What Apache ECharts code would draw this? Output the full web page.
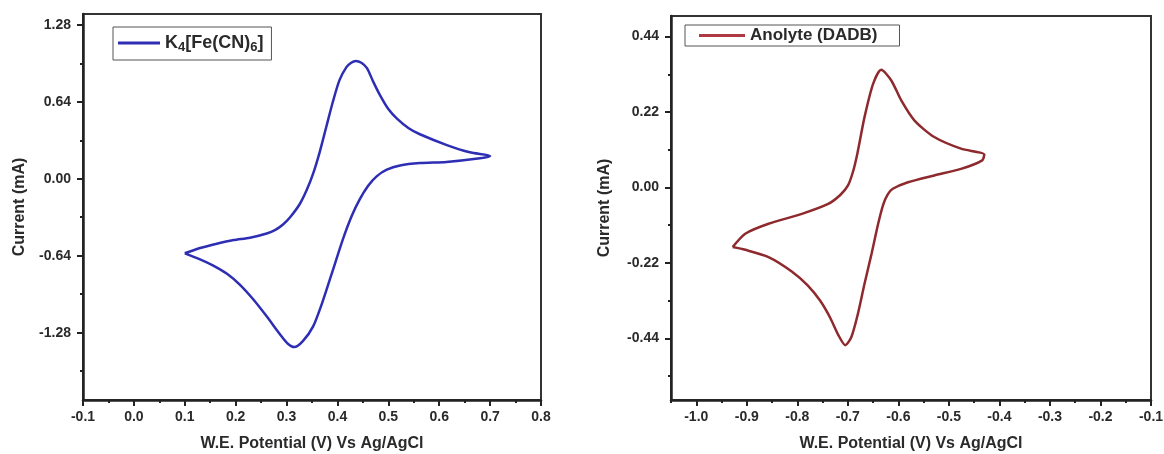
<!DOCTYPE html>
<html>
<head>
<meta charset="utf-8">
<script src="https://cdn.jsdelivr.net/npm/echarts@6/dist/echarts.min.js"></script>
<style>
  html, body { margin: 0; padding: 0; background: #fff; }
  #main { width: 1164px; height: 454px; }
</style>
</head>
<body>
<div id="main"></div>
<script>
// K4[Fe(CN)6] cyclic voltammogram (left panel)
var feX = [0.100, 0.130, 0.163, 0.196, 0.228, 0.261, 0.278, 0.293, 0.307, 0.326, 0.340, 0.352, 0.365, 0.378, 0.391,
           0.404, 0.418, 0.427, 0.436, 0.447, 0.458, 0.470, 0.483, 0.500, 0.517, 0.540, 0.562, 0.615, 0.660, 0.700,
           0.680, 0.614, 0.562, 0.523, 0.497, 0.477, 0.460, 0.444, 0.428, 0.411, 0.391, 0.371, 0.352, 0.332,
           0.315, 0.302, 0.290, 0.281, 0.262, 0.234, 0.208, 0.183, 0.155, 0.130, 0.100];
var feY = [-0.62, -0.576, -0.54, -0.51, -0.49, -0.455, -0.425, -0.38, -0.32, -0.21, -0.09, 0.04, 0.22, 0.43, 0.64,
           0.82, 0.93, 0.965, 0.98, 0.965, 0.92, 0.81, 0.70, 0.58, 0.50, 0.42, 0.37, 0.28, 0.22, 0.19,
           0.17, 0.14, 0.13, 0.11, 0.075, 0.02, -0.06, -0.17, -0.31, -0.50, -0.76, -1.02, -1.23, -1.35,
           -1.40, -1.37, -1.31, -1.26, -1.15, -1.00, -0.88, -0.79, -0.72, -0.67, -0.62];

// Anolyte (DADB) cyclic voltammogram (right panel)
var anX = [-0.928, -0.903, -0.857, -0.791, -0.739, -0.715, -0.700, -0.690, -0.681, -0.667, -0.650, -0.634,
           -0.614, -0.594, -0.568, -0.529, -0.476, -0.430,
           -0.434, -0.476, -0.529, -0.581, -0.611, -0.621, -0.630, -0.640, -0.653, -0.667, -0.680, -0.693, -0.705,
           -0.719, -0.735, -0.755, -0.780, -0.811, -0.857, -0.903, -0.928];
var anY = [-0.174, -0.135, -0.106, -0.077, -0.048, -0.022, 0.005, 0.045, 0.100, 0.205, 0.302, 0.343,
           0.312, 0.253, 0.195, 0.147, 0.113, 0.096,
           0.079, 0.054, 0.035, 0.015, -0.004, -0.020, -0.050, -0.106, -0.193, -0.281, -0.368, -0.436, -0.460,
           -0.430, -0.380, -0.330, -0.285, -0.245, -0.203, -0.182, -0.174];

// tick values
var feXMajor = [-0.1, 0.0, 0.1, 0.2, 0.3, 0.4, 0.5, 0.6, 0.7, 0.8];
var feXMinor = [-0.05, 0.05, 0.15, 0.25, 0.35, 0.45, 0.55, 0.65, 0.75];
var feYMajor = [-1.28, -0.64, 0.00, 0.64, 1.28];
var feYMinor = [-1.6, -0.96, -0.32, 0.32, 0.96];
var anXMajor = [-1.0, -0.9, -0.8, -0.7, -0.6, -0.5, -0.4, -0.3, -0.2, -0.1];
var anXMinor = [-1.05, -0.95, -0.85, -0.75, -0.65, -0.55, -0.45, -0.35, -0.25, -0.15];
var anYMajor = [-0.44, -0.22, 0.00, 0.22, 0.44];
var anYMinor = [-0.55, -0.33, -0.11, 0.11, 0.33];

function zip(xs, ys) {
  return xs.map(function (x, i) { return [x, ys[i]]; });
}

var FONT = '"Liberation Sans", Arial, sans-serif';
var INK = '#2a2a2a';

function mainAxis(grid, min, max, major, digits, name, nameGap, position, margin) {
  return {
    type: 'value', gridIndex: grid, min: min, max: max, position: position,
    name: name, nameLocation: 'middle', nameGap: nameGap,
    nameTextStyle: { fontFamily: FONT, fontWeight: 'bold', fontSize: 16, color: INK },
    axisLine: { show: true, onZero: false, lineStyle: { color: '#222', width: 2.5 } },
    axisTick: { show: true, inside: false, length: 6, customValues: major, lineStyle: { color: '#222', width: 2 } },
    axisLabel: {
      show: true, customValues: major, margin: margin,
      fontFamily: FONT, fontWeight: 'bold', fontSize: 14, color: INK,
      formatter: function (v) { return (Math.abs(v) < 1e-9 ? 0 : v).toFixed(digits); }
    },
    splitLine: { show: false }
  };
}

function minorAxis(grid, min, max, minor, position) {
  return {
    type: 'value', gridIndex: grid, min: min, max: max, position: position,
    axisLine: { show: false, onZero: false },
    axisTick: { show: true, inside: false, length: 3, customValues: minor, lineStyle: { color: '#222', width: 2 } },
    axisLabel: { show: false },
    splitLine: { show: false }
  };
}

var chart = echarts.init(document.getElementById('main'));
var option = {
  backgroundColor: '#fff',
  animation: false,
  grid: [
    { left: 83, top: 14, width: 458, height: 386, outerBoundsMode: 'none', containLabel: false,
      show: true, borderColor: '#333', borderWidth: 2, backgroundColor: 'transparent' },
    { left: 671, top: 16, width: 480, height: 384, outerBoundsMode: 'none', containLabel: false,
      show: true, borderColor: '#333', borderWidth: 2, backgroundColor: 'transparent' }
  ],
  xAxis: [
    mainAxis(0, -0.1, 0.8, feXMajor, 1, 'W.E. Potential (V) Vs Ag/AgCl', 36, 'bottom', 10),
    minorAxis(0, -0.1, 0.8, feXMinor, 'bottom'),
    mainAxis(1, -1.05, -0.1, anXMajor, 1, 'W.E. Potential (V) Vs Ag/AgCl', 36, 'bottom', 10),
    minorAxis(1, -1.05, -0.1, anXMinor, 'bottom')
  ],
  yAxis: [
    mainAxis(0, -1.84, 1.37, feYMajor, 2, 'Current (mA)', 55, 'left', 12),
    minorAxis(0, -1.84, 1.37, feYMinor, 'left'),
    mainAxis(1, -0.62, 0.5, anYMajor, 2, 'Current (mA)', 58, 'left', 12),
    minorAxis(1, -0.62, 0.5, anYMinor, 'left')
  ],
  legend: [
    {
      data: ['K4[Fe(CN)6]'], left: 113, top: 27,
      padding: [7, 8, 6, 5], borderColor: '#555', borderWidth: 1,
      icon: 'rect', itemWidth: 42, itemHeight: 3,
      formatter: function () { return '{a|K}{s|4}{a|[Fe(CN)}{s|6}{a|]}'; },
      textStyle: {
        rich: {
          a: { fontFamily: FONT, fontWeight: 'bold', fontSize: 18, color: INK },
          s: { fontFamily: FONT, fontWeight: 'bold', fontSize: 13, color: INK, padding: [9, 0, 0, 0] }
        }
      }
    },
    {
      data: ['Anolyte (DADB)'], left: 685, top: 25,
      padding: [2, 22, 2, 14], borderColor: '#555', borderWidth: 1,
      icon: 'rect', itemWidth: 46, itemHeight: 3,
      textStyle: { fontFamily: FONT, fontWeight: 'bold', fontSize: 17, color: INK }
    }
  ],
  series: [
    {
      name: 'K4[Fe(CN)6]', type: 'line', xAxisIndex: 0, yAxisIndex: 0,
      data: zip(feX, feY), showSymbol: false, symbol: 'none', smooth: 0.25,
      color: '#2e2eb4', lineStyle: { color: '#2e2eb4', width: 2.5 }
    },
    {
      name: 'Anolyte (DADB)', type: 'line', xAxisIndex: 2, yAxisIndex: 2,
      data: zip(anX, anY), showSymbol: false, symbol: 'none', smooth: 0.25,
      color: '#b03a44', lineStyle: { color: '#8e2a2e', width: 2.5 }
    }
  ]
};
chart.setOption(option);
</script>
</body>
</html>
